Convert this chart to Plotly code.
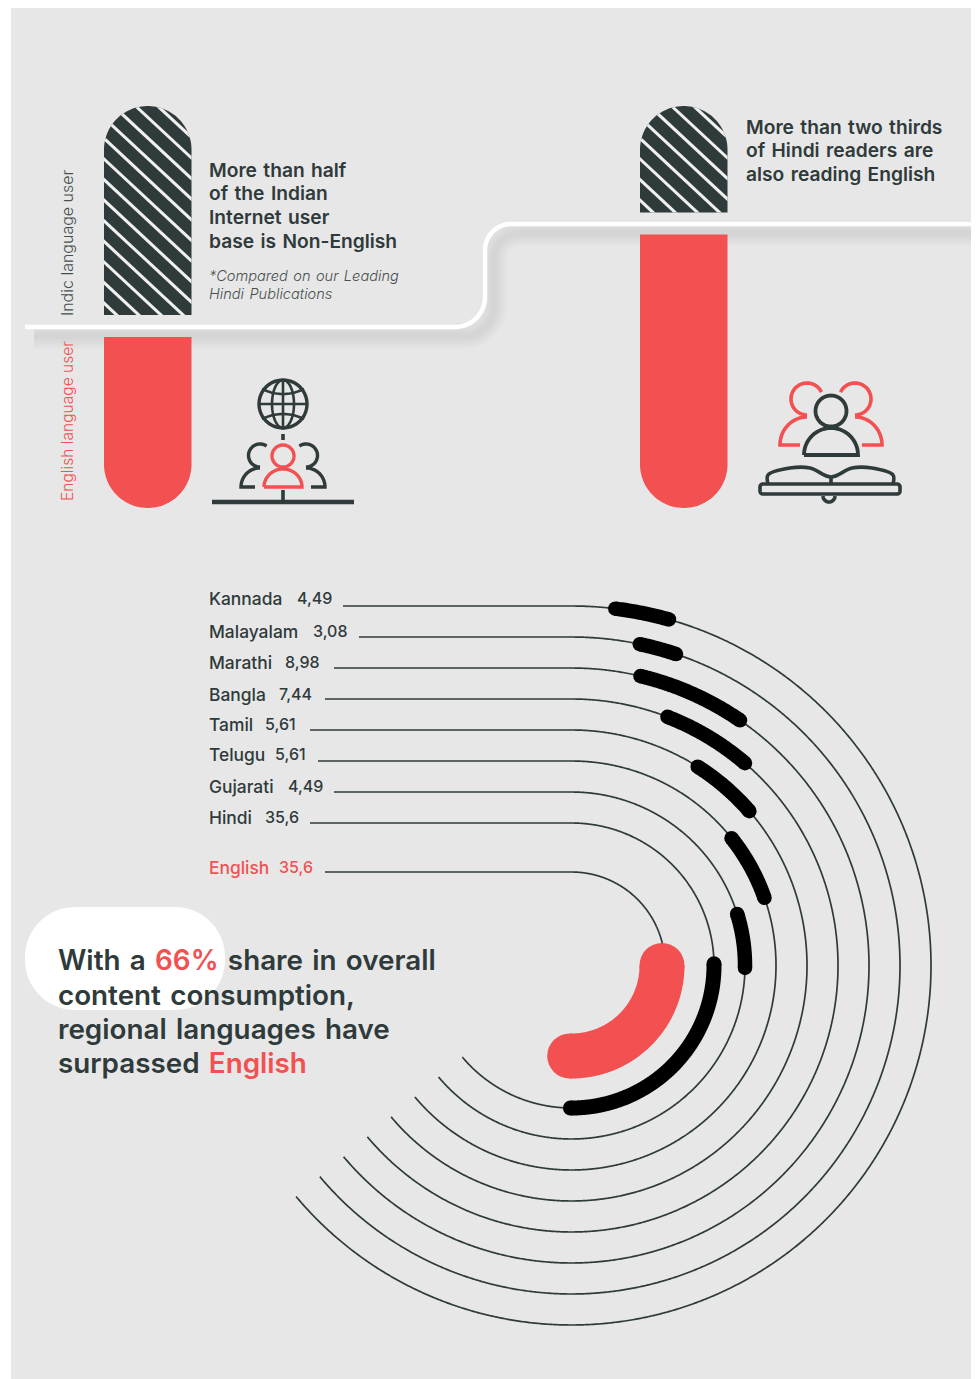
import numpy as np
import plotly.graph_objects as go

# ---- data ----
languages = ["Kannada", "Malayalam", "Marathi", "Bangla", "Tamil", "Telugu", "Gujarati", "Hindi", "English"]
shares = [4.49, 3.08, 8.98, 7.44, 5.61, 5.61, 4.49, 35.6, 35.6]
share_labels = ["4,49", "3,08", "8,98", "7,44", "5,61", "5,61", "4,49", "35,6", "35,6"]
ring_radius = [359.5, 328.5, 297.5, 266.5, 235.5, 204.5, 173.5, 142.5, 93.5]
arc_start_deg = [7, 12, 13.4, 21.1, 32.4, 51.5, 72.7, 89.3, 90]
leader_start_x = [343, 359, 334, 325, 310, 318, 334, 310, 325]
label_y = [598, 631, 662, 694, 724, 754, 786, 817, 867]
value_x = [297, 313, 285, 279, 265, 275, 288, 265, 279]

indic_share_left, english_share_left = 55, 45
other_share_right, english_share_right = 28, 72

DARK = "#2f3a3b"
RED = "#f25051"
BG = "#e7e7e7"
FONT = "Inter"

W, H = 976, 1379
CX, CY = 571.5, 965.5        # centre of the concentric rings
RING_END_DEG = 230           # where the thin rings stop, clockwise from 12 o'clock
PX_PER_POINT = 12.2          # arc length per share point on the regional rings
DEG_PER_POINT_CORE = 2.56    # sweep per share point on the Hindi and English rings
BAR_TOP, BAR_BOTTOM = 106, 508
BAR_PX_PER_PCT = 3.8
BAR_WIDTH = 87.5

fig = go.Figure()


def line(xs, ys, color=DARK, width=1.7, cap_shape="linear"):
    fig.add_trace(go.Scatter(x=list(xs), y=list(ys), mode="lines",
                             line=dict(color=color, width=width, shape=cap_shape, simplify=False),
                             hoverinfo="skip", showlegend=False))


def poly(xs, ys, color):
    fig.add_trace(go.Scatter(x=list(xs), y=list(ys), mode="lines", fill="toself",
                             fillcolor=color, line=dict(color=color, width=0, simplify=False),
                             hoverinfo="skip", showlegend=False))


def polar(radius, deg, cx=CX, cy=CY):
    t = np.radians(deg)
    return cx + radius * np.sin(t), cy - radius * np.cos(t)


def arc(radius, d0, d1, cx=CX, cy=CY, n=None):
    n = n or max(24, int(abs(d1 - d0) * 4))
    return polar(radius, np.linspace(d0, d1, n), cx, cy)


def round_stroke(xs, ys, color, width):
    # thick stroke with round ends
    line(xs, ys, color, width)
    fig.add_trace(go.Scatter(x=[xs[0], xs[-1]], y=[ys[0], ys[-1]], mode="markers",
                             marker=dict(color=color, size=width, line=dict(width=0)),
                             hoverinfo="skip", showlegend=False))


def clip_halfplane(pts, f):
    out = []
    for i in range(len(pts)):
        a, b = pts[i], pts[(i + 1) % len(pts)]
        fa, fb = f(a), f(b)
        if fa >= 0:
            out.append(a)
        if fa * fb < 0:
            t = fa / (fa - fb)
            out.append((a[0] + t * (b[0] - a[0]), a[1] + t * (b[1] - a[1])))
    return out


def striped_bar(x0, top, bottom):
    # dark bar with a rounded top, crossed by pale diagonal stripes
    r = BAR_WIDTH / 2
    ax, ay = arc(r, -90, 90, x0 + r, top + r, 60)
    xs = [x0] + list(ax) + [x0 + BAR_WIDTH]
    ys = [bottom] + list(ay) + [bottom]
    poly(xs, ys, DARK)
    outline = list(zip(xs, ys))
    slope, pitch, thick = 0.93, 20.6, 4.2
    for k in range(0, 24):
        c = 74.5 - 3 * pitch + k * pitch
        upper = clip_halfplane(outline, lambda p: (p[1] - slope * (p[0] - x0)) - c)
        band = clip_halfplane(upper, lambda p: (c + thick) - (p[1] - slope * (p[0] - x0)))
        if len(band) > 2:
            bx, by = zip(*band)
            poly(bx, by, "#f0f0f0")


def red_bar(x0, top, bottom):
    r = BAR_WIDTH / 2
    ax, ay = arc(r, 90, 270, x0 + r, bottom - r, 60)
    poly([x0 + BAR_WIDTH] + list(ax) + [x0], [top] + list(ay) + [top], RED)


# background panel
poly([11, 971, 971, 11], [8, 8, H, H], BG)

# white divider curve with its soft shadow
corner1 = arc(30, 180, 90, 455, 297, 24)
corner2 = arc(26, 270, 360, 511, 250, 24)
div_x = np.concatenate([[25], corner1[0], corner2[0], [971]])
div_y = np.concatenate([[327], corner1[1], corner2[1], [224]])
for w in [26, 22, 18, 14, 10, 6]:
    line(np.minimum(div_x + 9, 971), div_y + 9, "rgba(0,0,0,0.012)", w)
line(div_x, div_y, "#ffffff", 4.5)

# left and right share bars
striped_bar(104, BAR_TOP, BAR_TOP + indic_share_left * BAR_PX_PER_PCT)
red_bar(104, BAR_BOTTOM - english_share_left * BAR_PX_PER_PCT, BAR_BOTTOM)
striped_bar(640, BAR_TOP, BAR_TOP + other_share_right * BAR_PX_PER_PCT)
red_bar(640, BAR_BOTTOM - english_share_right * BAR_PX_PER_PCT, BAR_BOTTOM)

# rings: a leader line running into an arc, then the share drawn over it
for i, lang in enumerate(languages):
    R = ring_radius[i]
    end = 83 if lang == "English" else RING_END_DEG
    ax, ay = arc(R, 0, end)
    line(np.concatenate([[leader_start_x[i]], ax]), np.concatenate([[CY - R], ay]))
for i, lang in enumerate(languages):
    R = ring_radius[i]
    if lang == "English":
        sweep = shares[i] * DEG_PER_POINT_CORE
        ax, ay = arc(90.5, arc_start_deg[i], arc_start_deg[i] + sweep)
        round_stroke(ax, ay, RED, 45)
    elif lang == "Hindi":
        sweep = shares[i] * DEG_PER_POINT_CORE
        ax, ay = arc(R, arc_start_deg[i], arc_start_deg[i] + sweep)
        round_stroke(ax, ay, "#000000", 15)
    else:
        sweep = np.degrees(shares[i] * PX_PER_POINT / R)
        ax, ay = arc(R, arc_start_deg[i], arc_start_deg[i] + sweep)
        round_stroke(ax, ay, "#000000", 14.5)


def rounded_rect(x0, x1, y0, y1, r):
    parts = [arc(r, 270, 360, x0 + r, y0 + r, 20), arc(r, 0, 90, x1 - r, y0 + r, 20),
             arc(r, 90, 180, x1 - r, y1 - r, 20), arc(r, 180, 270, x0 + r, y1 - r, 20)]
    return np.concatenate([p[0] for p in parts]), np.concatenate([p[1] for p in parts])


# white backing blob behind the headline
bx, by = rounded_rect(25, 225, 907, 1010, 50)
poly(bx, by, "#ffffff")


# ---- icons ----
def circle(cx, cy, r, color, width=3.4):
    ax, ay = arc(r, 0, 360, cx, cy, 60)
    line(ax, ay, color, width)


def person_side(cx, head_x, sign, color, head_y, head_r, base_y, foot_x, shoulder_x, shoulder_top, neck_deg0, neck_deg1, width=3.4):
    # one side figure: open head arc plus a shoulder curve ending in a short foot
    ax, ay = arc(head_r, neck_deg0, neck_deg1, head_x, head_y, 30)
    line(cx + sign * (ax - cx), ay, color, width)
    ts = np.linspace(0, 1, 24)
    sx = shoulder_x + (head_x - shoulder_x) * (1 - np.cos(ts * np.pi / 2))
    sy = base_y - (base_y - shoulder_top) * np.sin(ts * np.pi / 2)
    line(np.r_[cx + sign * (foot_x - cx), cx + sign * (sx - cx)], np.r_[base_y, sy], color, width)


def dome(cx, x_half, base_y, top_y, color, width=3.4):
    t = np.linspace(-90, 90, 40)
    xs = cx + x_half * np.sin(np.radians(t))
    ys = base_y - (base_y - top_y) * np.cos(np.radians(t))
    line(np.r_[xs, xs[0]], np.r_[ys, ys[0]], color, width)


# globe above three readers
gx, gy, gr = 283, 404, 24
circle(gx, gy, gr, DARK)
t = np.linspace(0, 360, 60)
line(gx + 11 * np.sin(np.radians(t)), gy - gr * np.cos(np.radians(t)), DARK, 2.6)
line([gx, gx], [gy - gr, gy + gr], DARK, 2.6)
line([gx - gr, gx + gr], [gy, gy], DARK, 2.6)
for s in (-1, 1):
    u = np.linspace(-1, 1, 24)
    line(gx + 21 * u, gy + s * (15 - 5 * (1 - u ** 2)), DARK, 2.6)
line([gx, gx], [434, 440], DARK, 3.6)
circle(gx, 456, 11, RED)
dome(gx, 19, 487, 469, RED)
for s in (-1, 1):
    person_side(gx, 260, s, DARK, 455.5, 11.5, 487, 255, 241, 468, 35, -180)
line([212, 354], [502, 502], DARK, 4.5)
line([gx, gx], [490, 502], DARK, 3.6)

# three readers above an open book
cx2 = 831
circle(cx2, 411, 15.5, DARK, 3.8)
dome(cx2, 27, 455, 428, DARK, 3.8)
for s in (-1, 1):
    person_side(cx2, 807, s, RED, 399, 16, 445, 800, 780, 417, 65, -180, 3.6)
# book
bw = 3.6
rx, ry = rounded_rect(760, 900, 484, 494, 3)
line(np.r_[rx, rx[0]], np.r_[ry, ry[0]], DARK, bw)
line([768, 768, 790, 810, cx2, 852, 872, 893, 893],
     [484, 475, 468, 468, 477, 468, 468, 475, 484], DARK, bw, "spline")
line([cx2, cx2], [477, 484], DARK, bw)
ax, ay = arc(6, 90, 270, cx2 - 2, 496, 16)
line(ax, ay, DARK, bw)

# ---- text ----
annotations = []
GAP = " \u200a"  # slightly wider word spacing


def text(x, y, s, size, color=DARK, weight=400, style="normal", angle=0, anchor="left", yanchor="middle"):
    annotations.append(dict(x=x, y=y, xref="x", yref="y", text=s, showarrow=False,
                            xanchor=anchor, yanchor=yanchor, textangle=angle, align="left",
                            borderpad=0, borderwidth=0,
                            font=dict(family=FONT, size=size, color=color, weight=weight, style=style)))


text(67, 243, "Indic language user", 16, "#47504f", 300, angle=-90, anchor="center")
text(67, 421, "English language user", 15.6, RED, 300, angle=-90, anchor="center")

for y, s in zip([170, 193, 217, 241], ["More than half", "of the Indian", "Internet user", "base is Non-English"]):
    text(209, y, s.replace(" ", GAP), 19.2, DARK, 600)
for y, s in zip([276, 294], ["*Compared on our Leading", "Hindi Publications"]):
    text(209, y, s.replace(" ", GAP), 14.6, "#47504f", 300, "italic")
for y, s in zip([127, 150, 174], ["More than two thirds", "of Hindi readers are", "also reading English"]):
    text(746, y, s.replace(" ", GAP), 19.2, DARK, 600)

for i, lang in enumerate(languages):
    col = RED if lang == "English" else DARK
    text(209, label_y[i], lang, 17.4, col, 500)
    text(value_x[i], label_y[i], share_labels[i], 16, col, 500)

headline = [
    (960, ["With", "a", f'<span style="color:{RED}">66%</span>', "share", "in", "overall"]),
    (995, ["content", "consumption,"]),
    (1029, ["regional", "languages", "have"]),
    (1063, ["surpassed", f'<span style="color:{RED}">English</span>']),
]
for y, words in headline:
    text(58, y, GAP.join(words), 27.8, DARK, 600)

fig.update_layout(
    width=W, height=H, margin=dict(l=0, r=0, t=0, b=0),
    paper_bgcolor="#ffffff", plot_bgcolor="#ffffff",
    xaxis=dict(range=[0, W], visible=False, fixedrange=True),
    yaxis=dict(range=[H, 0], visible=False, fixedrange=True),
    annotations=annotations, showlegend=False, hovermode=False,
)
fig.write_html("out.html", config=dict(displayModeBar=False))
